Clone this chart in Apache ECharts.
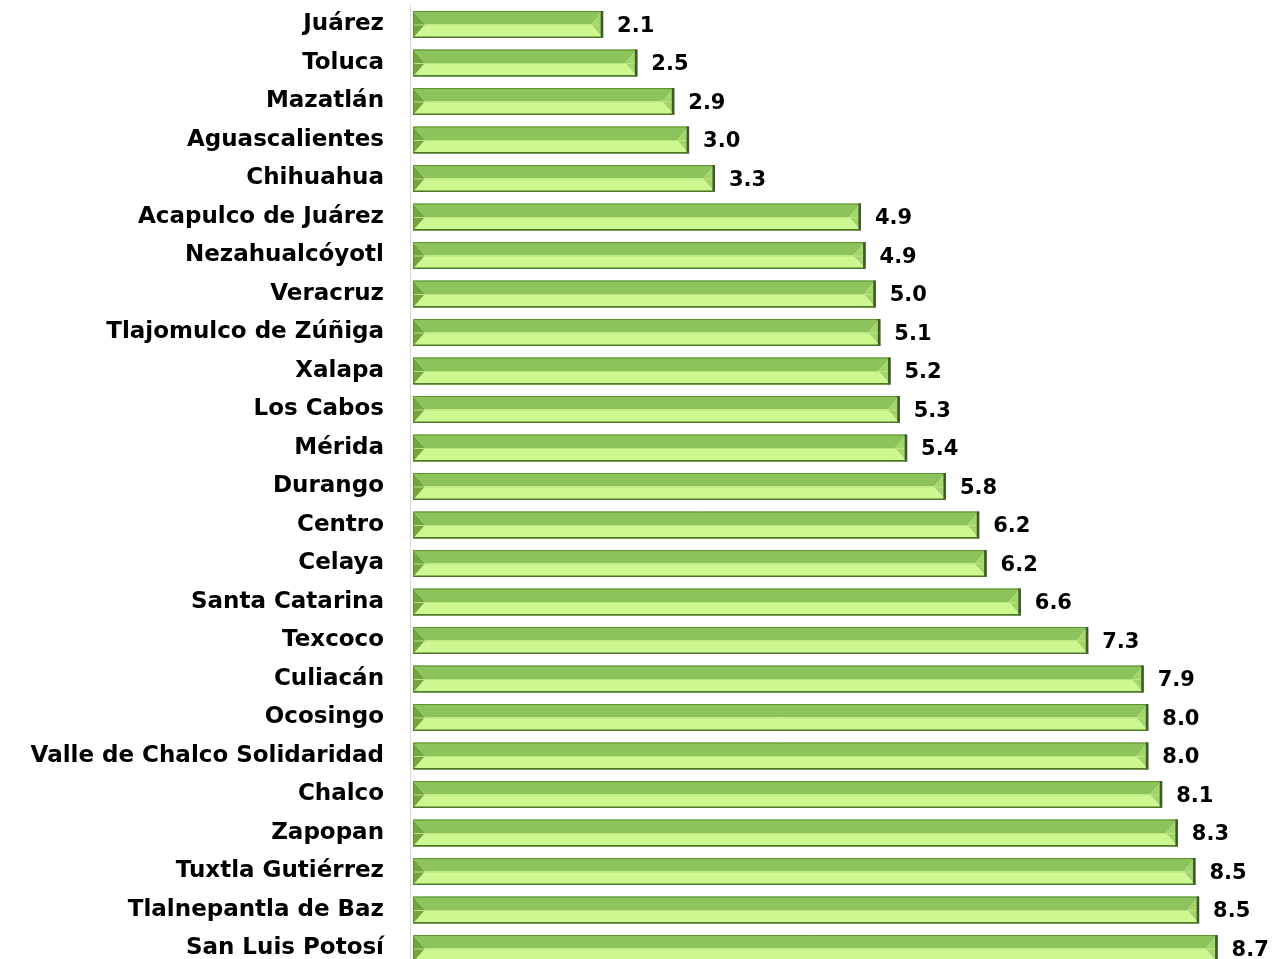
<!DOCTYPE html>
<html><head><meta charset="utf-8">
<script src="https://cdn.jsdelivr.net/npm/echarts@6/dist/echarts.min.js"></script>
<style>html,body{margin:0;padding:0;background:#fff}#c{width:1283px;height:959px}</style>
</head><body><div id="c"></div>
<script>
const categories = ["Juárez","Toluca","Mazatlán","Aguascalientes","Chihuahua","Acapulco de Juárez","Nezahualcóyotl","Veracruz","Tlajomulco de Zúñiga","Xalapa","Los Cabos","Mérida","Durango","Centro","Celaya","Santa Catarina","Texcoco","Culiacán","Ocosingo","Valle de Chalco Solidaridad","Chalco","Zapopan","Tuxtla Gutiérrez","Tlalnepantla de Baz","San Luis Potosí"];
const values = [2.09,2.46,2.86,3.02,3.30,4.88,4.93,5.04,5.09,5.20,5.30,5.38,5.80,6.16,6.24,6.61,7.34,7.94,7.99,7.99,8.14,8.31,8.50,8.54,8.74];

const chart = echarts.init(document.getElementById('c'));
const BAR_H = 27;
function renderItem(params, api){
  const v = api.value(0), idx = api.value(1);
  const p0 = api.coord([0, idx]), p1 = api.coord([v, idx]);
  const x0 = p0[0] + 3, x1 = p1[0];
  const y0 = p0[1] - BAR_H/2, y1 = y0 + BAR_H, ym = p0[1];
  const d = 12;
  const txt = v.toFixed(1);
  return {type:'group', children:[
    {type:'polygon', shape:{points:[[x0,y0],[x1,y0],[x1-d,ym],[x0+d,ym]]}, style:{fill:'#8dc35b'}},
    {type:'polygon', shape:{points:[[x0,y1],[x1,y1],[x1-d,ym],[x0+d,ym]]}, style:{fill:'#cdf78f'}},
    {type:'polygon', shape:{points:[[x0,y0],[x0+d,ym],[x0,y1]]}, style:{fill:'#72a53e'}},
    {type:'polygon', shape:{points:[[x1,y0],[x1-d,ym],[x1,y1]]}, style:{fill:'#a2d66a'}},
    {type:'line', shape:{x1:x0,y1:ym+0.5,x2:x1,y2:ym+0.5}, style:{stroke:'#b8e67c',lineWidth:1}},
    {type:'rect', shape:{x:x0+0.5,y:y0+0.5,width:x1-x0-1,height:BAR_H-1}, style:{fill:null,stroke:'#5f8f33',lineWidth:1}},
    {type:'line', shape:{x1:x1-1.2,y1:y0,x2:x1-1.2,y2:y1}, style:{stroke:'#3d5c20',lineWidth:2.5}},
    {type:'line', shape:{x1:x0,y1:y1-0.8,x2:x1,y2:y1-0.8}, style:{stroke:'#4d7729',lineWidth:1.5}},
    {type:'text', x:x1+14, y:ym+2, style:{text:txt, fill:'#000', font:'bold 21px "DejaVu Sans"', textVerticalAlign:'middle', textAlign:'left'}}
  ]};
}
chart.setOption({
  animation:false,
  grid:{left:410,width:831.6,top:5.25,height:962.5,outerBoundsMode:'none',containLabel:false},
  xAxis:{type:'value',min:0,max:9,show:false},
  yAxis:{type:'category',data:categories,inverse:true,
    axisLine:{show:true,lineStyle:{color:'#d9d9d9',width:1}},
    axisTick:{show:false},
    axisLabel:{margin:26,color:'#000',fontFamily:'DejaVu Sans',fontWeight:'bold',fontSize:23}
  },
  series:[{type:'custom',renderItem:renderItem,encode:{x:0,y:1},clip:false,
    data:values.map((v,i)=>[v,i])}]
});
</script></body></html>
